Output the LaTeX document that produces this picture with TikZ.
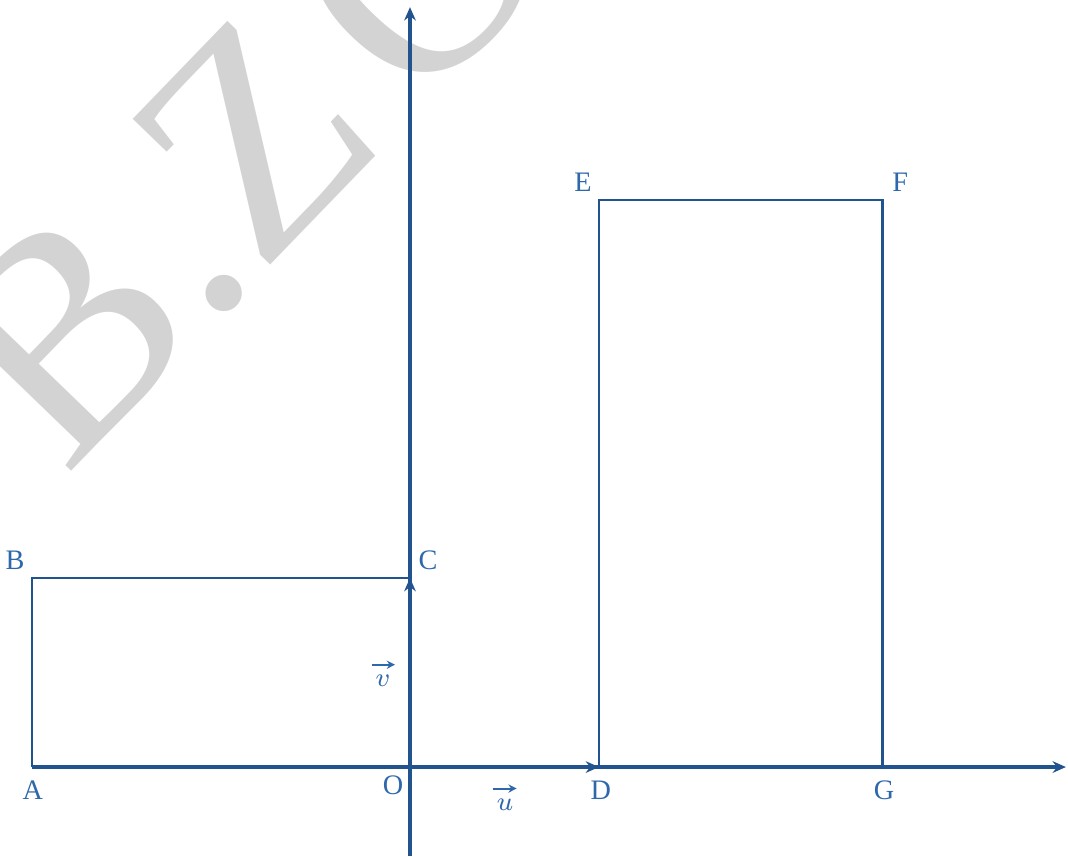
\documentclass[tikz,border=0pt]{standalone}
\usepackage{fontspec}
\setmainfont{Liberation Serif}
\usetikzlibrary{arrows.meta}
\definecolor{axisblue}{RGB}{33,84,143}
\definecolor{labelblue}{RGB}{46,104,170}
\definecolor{markgray}{RGB}{211,211,211}
\tikzset{
  axis/.style={axisblue,line width=1.1pt,-{Stealth[length=4pt,width=3.5pt]}},
  edge/.style={axisblue,line width=0.7pt},
  pt/.style={labelblue,font=\fontsize{8.5}{10}\selectfont},
}
\newcommand{\arrowvec}[1]{\ensuremath{\stackrel{\tikz\draw[labelblue,line width=0.6pt,-{Stealth[length=2.5pt,width=2.5pt]}] (0,0) -- (7pt,0);}{#1}}}
\begin{document}
\begin{tikzpicture}[x=2cm,y=2cm]
\useasboundingbox (-2.169,-0.471) rectangle (3.481,4.058);
% watermark
\node[markgray,rotate=46,anchor=base west,inner sep=0pt,
  font=\fontsize{92}{92}\selectfont] (mark) at (-1.825,1.529) {B.Z\kern11pt O};
% points
\coordinate (O) at (0,0);
\coordinate (A) at (-2,0);
\coordinate (B) at (-2,1);
\coordinate (C) at (0,1);
\coordinate (D) at (1,0);
\coordinate (E) at (1,3);
\coordinate (F) at (2.5,3);
\coordinate (G) at (2.5,0);
\coordinate (xend) at (3.47,0);
\coordinate (ybot) at (0,-0.471);
\coordinate (ytop) at (0,4.02);
% rectangles
\draw[edge] (A) -- (B) -- (C);
\draw[edge] (D) -- (E) -- (F) -- (G);
% axes
\draw[axis] (A) -- (xend);
\draw[axis] (ybot) -- (ytop);
\draw[axis] (O) -- (D);
\draw[axis] (O) -- (C);
% labels
\node[pt] (lA) at (-1.995,-0.122) {A};
\node[pt] (lB) at (-2.09,1.095) {B};
\node[pt] (lC) at (0.095,1.095) {C};
\node[pt] (lO) at (-0.09,-0.095) {O};
\node[pt] (lD) at (1.01,-0.122) {D};
\node[pt] (lE) at (0.915,3.095) {E};
\node[pt] (lF) at (2.593,3.095) {F};
\node[pt] (lG) at (2.508,-0.122) {G};
\node[pt] (lu) at (0.503,-0.155) {\arrowvec{u}};
\node[pt] (lv) at (-0.143,0.5) {\arrowvec{v}};
\end{tikzpicture}
\end{document}
